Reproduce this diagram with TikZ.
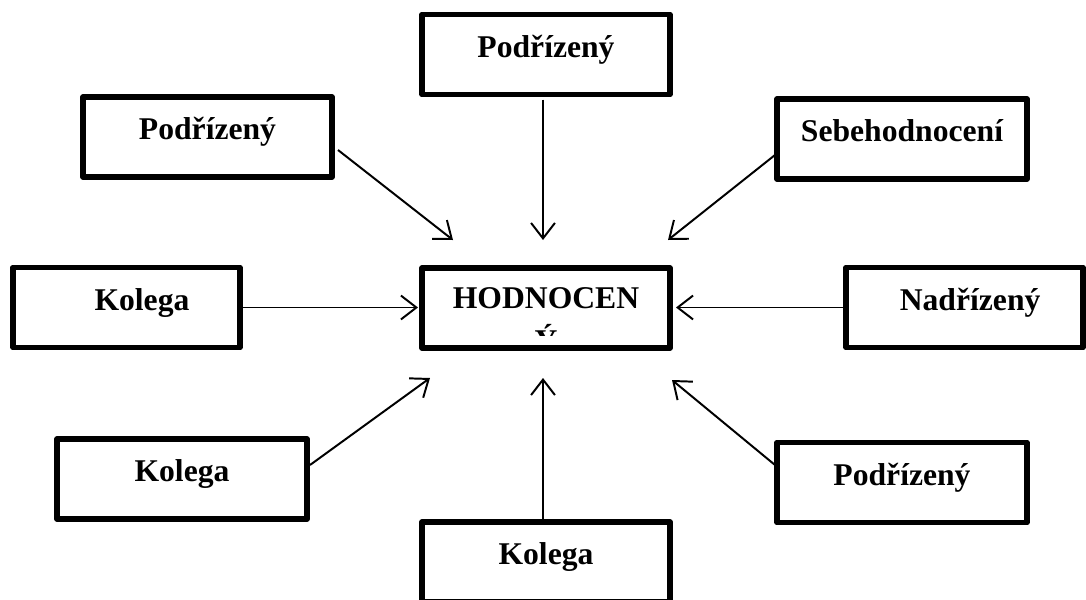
\documentclass[tikz,border=0pt]{standalone}
\usepackage{fontspec}
\setmainfont{Liberation Serif}
\usetikzlibrary{arrows.meta}

\tikzset{
    ramec/.style={draw, line width=4pt, line join=round, outer sep=0pt,
        minimum height=80*0.025cm, font=\fontsize{22.5}{32}\selectfont\bfseries,
        text height=13pt, text depth=9pt},
    sipka/.style={line width=1.4pt, -{Straight Barb[length=11pt,width=17pt,line width=1.4pt]}}
}

\begin{document}
\begin{tikzpicture}[x=0.025cm, y=-0.025cm]
    \useasboundingbox (0,0) rectangle (1086,599);

    % okolni ramecky
    \node[ramec, minimum width=249*0.025cm] (pod1) at (207.5,137) {Podřízený};
    \node[ramec, minimum width=248*0.025cm] (pod2) at (546,54.5) {Podřízený};
    \node[ramec, minimum width=250*0.025cm] (sebe) at (902,139) {Sebehodnocení};
    \node[ramec, minimum width=227*0.025cm] (kol1) at (126.5,307.5) {\hspace{22pt}Kolega};
    \node[ramec, minimum width=237*0.025cm] (nadr) at (964.5,307.5) {\hspace{8pt}Nadřízený};
    \node[ramec, minimum width=250*0.025cm] (kol2) at (182,479) {Kolega};
    \node[ramec, minimum width=248*0.025cm] (kol3) at (546,562) {Kolega};
    \node[ramec, minimum width=250*0.025cm] (pod3) at (902,482.5) {Podřízený};

    % hodnoceny uprostred (druhy radek je orezany)
    \node[ramec, minimum width=248*0.025cm] (hodn) at (546,308) {};
    \begin{scope}
        \clip (422,270) rectangle (670,335);
        \node[font=\fontsize{22.5}{32}\selectfont\bfseries, anchor=base] (hodn1) at (546,308) {HODNOCEN};
        \node[font=\fontsize{22.5}{32}\selectfont\bfseries, anchor=base] (hodn2) at (546,351) {Ý};
    \end{scope}

    % konce sipek
    \coordinate (k1) at (453,240);
    \coordinate (k2) at (543,240);
    \coordinate (k3) at (668,240);
    \coordinate (k4) at (418,307.5);
    \coordinate (k5) at (676,307.5);
    \coordinate (k6) at (430,378);
    \coordinate (k7) at (543,378);
    \coordinate (k8) at (672,380);

    \draw[sipka] ([shift={(6,13)}]pod1.east) -- (k1);
    \draw[sipka] ([shift={(-3,5)}]pod2.south) -- (k2);
    \draw[sipka] ([shift={(-2,16)}]sebe.west) -- (k3);
    \draw[sipka] (kol1.east) -- (k4);
    \draw[sipka] (nadr.west) -- (k5);
    \draw[sipka] ([shift={(3,-14)}]kol2.east) -- (k6);
    \draw[sipka] ([shift={(-3,0)}]kol3.north) -- (k7);
    \draw[sipka] ([shift={(-2,-17.5)}]pod3.west) -- (k8);
\end{tikzpicture}
\end{document}
